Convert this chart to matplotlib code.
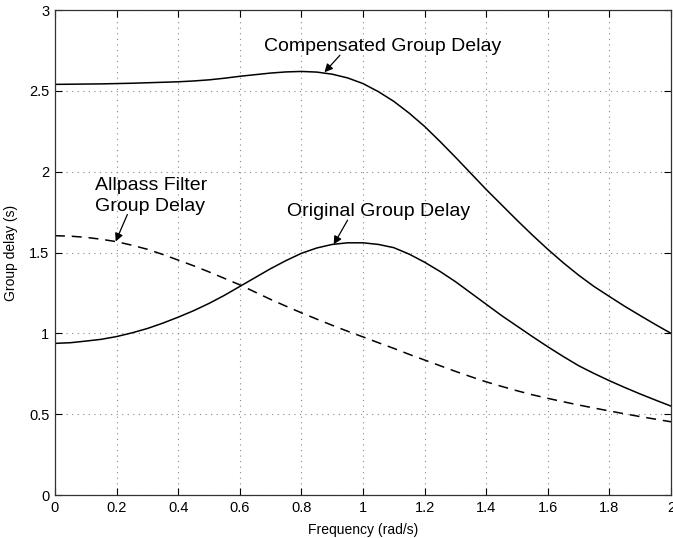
import numpy as np
import matplotlib
matplotlib.use('Agg')
import matplotlib.pyplot as plt

plt.rcParams['font.family'] = ['Liberation Sans', 'DejaVu Sans']

# frequency grid (rad/s) and group delays (s)
freq = [0.00, 0.05, 0.10, 0.15, 0.20, 0.25, 0.30, 0.35, 0.40, 0.45,
        0.50, 0.55, 0.60, 0.65, 0.70, 0.75, 0.80, 0.85, 0.90, 0.95,
        1.00, 1.05, 1.10, 1.15, 1.20, 1.25, 1.30, 1.35, 1.40, 1.45,
        1.50, 1.55, 1.60, 1.65, 1.70, 1.75, 1.80, 1.85, 1.90, 1.95, 2.00]
gd_original = [0.938, 0.942, 0.952, 0.963, 0.980, 1.003, 1.030, 1.063, 1.100, 1.140,
               1.185, 1.235, 1.290, 1.345, 1.400, 1.450, 1.495, 1.528, 1.550, 1.560,
               1.560, 1.550, 1.530, 1.490, 1.440, 1.383, 1.320, 1.250, 1.180, 1.110,
               1.045, 0.980, 0.917, 0.857, 0.800, 0.752, 0.707, 0.665, 0.625, 0.587, 0.550]
gd_allpass = [1.604, 1.601, 1.594, 1.582, 1.567, 1.545, 1.520, 1.488, 1.453, 1.418,
              1.380, 1.340, 1.300, 1.255, 1.210, 1.168, 1.127, 1.088, 1.050, 1.013,
              0.978, 0.942, 0.907, 0.870, 0.835, 0.800, 0.765, 0.732, 0.700, 0.672,
              0.645, 0.620, 0.598, 0.577, 0.557, 0.538, 0.520, 0.502, 0.485, 0.469, 0.453]
gd_comp = [2.540, 2.541, 2.542, 2.543, 2.545, 2.547, 2.550, 2.553, 2.556, 2.561,
           2.568, 2.578, 2.590, 2.600, 2.610, 2.617, 2.620, 2.616, 2.603, 2.580,
           2.545, 2.495, 2.435, 2.362, 2.280, 2.187, 2.090, 1.990, 1.890, 1.795,
           1.700, 1.608, 1.520, 1.437, 1.360, 1.290, 1.228, 1.167, 1.110, 1.054, 1.000]

fig = plt.figure(figsize=(6.73, 5.38), dpi=100)
ax = fig.add_axes([0.0817, 0.0799, 0.9153, 0.9015])

ax.plot(freq, gd_comp, color='black', lw=1.1)
ax.plot(freq, gd_original, color='black', lw=1.1)
ax.plot(freq, gd_allpass, color='black', lw=1.1, dashes=(6.5, 4.5))

ax.set_xlim(0, 2)
ax.set_ylim(0, 3)
ax.set_xticks(np.arange(0, 2.01, 0.2))
ax.set_xticklabels(['0', '0.2', '0.4', '0.6', '0.8', '1', '1.2', '1.4', '1.6', '1.8', '2'])
ax.set_yticks(np.arange(0, 3.01, 0.5))
ax.set_yticklabels(['0', '0.5', '1', '1.5', '2', '2.5', '3'])
ax.tick_params(direction='in', length=5, width=0.8, top=True, right=True,
               labelsize=10.5, pad=4)
ax.grid(True, color='#888888', linestyle=(0, (1, 4)), linewidth=0.8)
for s in ax.spines.values():
    s.set_linewidth(0.9)
    s.set_color('#333333')

ax.set_xlabel('Frequency (rad/s)', fontsize=10, labelpad=6)
ax.set_ylabel('Group delay (s)', fontsize=10, labelpad=8)

arrow = dict(arrowstyle='-|>', color='black', lw=0.9, mutation_scale=12,
             shrinkA=0, shrinkB=0)
ax.annotate('', xy=(0.875, 2.615), xytext=(0.925, 2.72), arrowprops=arrow)
ax.text(1.063, 2.72, 'Compensated Group Delay', fontsize=14, ha='center', va='bottom')
ax.annotate('', xy=(0.905, 1.55), xytext=(0.95, 1.70), arrowprops=arrow)
ax.text(1.05, 1.70, 'Original Group Delay', fontsize=14, ha='center', va='bottom')
ax.annotate('', xy=(0.197, 1.568), xytext=(0.235, 1.735), arrowprops=arrow)
ax.text(0.13, 1.735, 'Allpass Filter\nGroup Delay', fontsize=14, ha='left', va='bottom',
        linespacing=1.25)

fig.savefig('out.png', dpi=100)
